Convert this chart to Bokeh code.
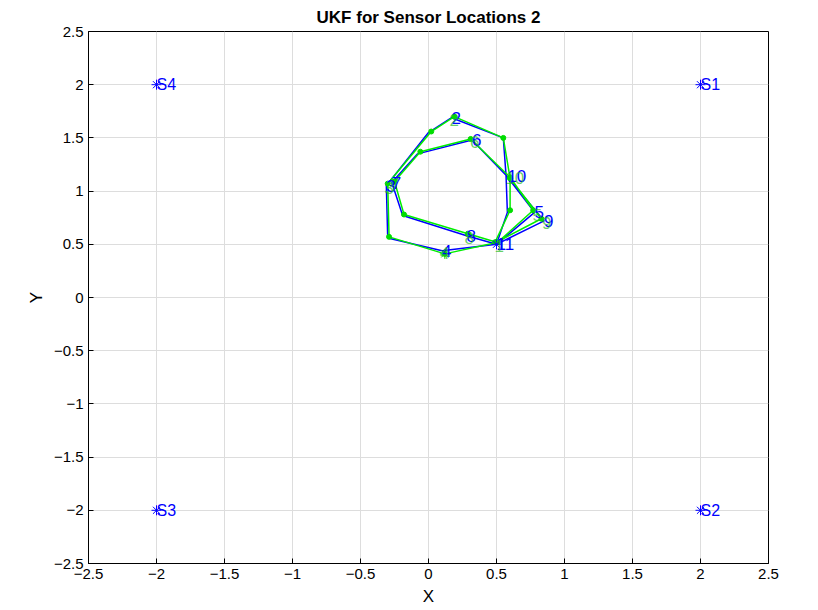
from bokeh.plotting import figure
from bokeh.embed import file_html
from bokeh.resources import INLINE
from bokeh.models import FixedTicker, Range1d
from bokeh.core.properties import value

sensor_x = [2, 2, -2, -2]
sensor_y = [2, -2, -2, 2]
sensor_names = ["S1", "S2", "S3", "S4"]

# waypoints 1..11
wp_x = [0.5, 0.17, -0.31, 0.1, 0.78, 0.32, -0.27, 0.28, 0.85, 0.58, 0.5]
wp_y = [0.5, 1.69, 1.05, 0.44, 0.8, 1.48, 1.08, 0.58, 0.72, 1.14, 0.5]
wp_names = [str(i) for i in range(1, 12)]

# true path (blue)
true_x = [0.5, 0.58, 0.57, 0.55, 0.17, 0.0, -0.31, -0.3, 0.1, 0.5, 0.78, 0.57, 0.32, -0.08, -0.27, -0.19, 0.28, 0.5, 0.85, 0.57]
true_y = [0.5, 0.8, 1.15, 1.5, 1.69, 1.55, 1.05, 0.56, 0.44, 0.5, 0.8, 1.15, 1.48, 1.35, 1.08, 0.77, 0.58, 0.5, 0.72, 1.15]
# UKF estimate (green)
est_x = [0.49, 0.6, 0.6, 0.55, 0.19, 0.02, -0.3, -0.29, 0.12, 0.51, 0.77, 0.6, 0.31, -0.06, -0.25, -0.18, 0.29, 0.5, 0.83, 0.6]
est_y = [0.52, 0.82, 1.12, 1.5, 1.7, 1.56, 1.07, 0.57, 0.41, 0.52, 0.82, 1.13, 1.49, 1.37, 1.09, 0.78, 0.6, 0.52, 0.74, 1.12]

p = figure(width=810, height=608, output_backend="svg", toolbar_location=None,
           x_range=Range1d(-2.5, 2.5), y_range=Range1d(-2.5, 2.5),
           min_border_left=88, min_border_right=42, min_border_top=26, min_border_bottom=38,
           title="UKF for Sensor Locations 2")
p.title.align = "center"
p.title.text_font = "Liberation Sans"
p.title.text_font_size = "17px"
p.title.text_font_style = "bold"
p.title.text_color = "black"
p.outline_line_color = "black"
ticks = [-2.5, -2, -1.5, -1, -0.5, 0, 0.5, 1, 1.5, 2, 2.5]
for ax in (p.xaxis, p.yaxis):
    ax.ticker = FixedTicker(ticks=ticks)
    ax.major_label_text_font = "Liberation Sans"
    ax.major_label_text_font_size = "15px"
    ax.major_label_text_color = "black"
    ax.axis_label_text_font = "Liberation Sans"
    ax.axis_label_text_font_size = "17px"
    ax.axis_label_text_font_style = "normal"
    ax.axis_label_text_color = "black"
    ax.minor_tick_line_color = None
    ax.major_tick_in = 5
    ax.major_tick_out = 0
p.xaxis.axis_label = "X"
p.yaxis.axis_label = "Y"
p.yaxis.major_label_orientation = 0
p.grid.grid_line_color = "#dddddd"

p.line(true_x, true_y, line_color="blue", line_width=1.5)
p.line(est_x, est_y, line_color="#00ee00", line_width=1.5)
p.scatter(est_x, est_y, marker="circle", size=5, color="#00dd00")
p.scatter(sensor_x, sensor_y, marker="asterisk", size=10, line_color="blue")
p.scatter([true_x[0]], [true_y[0]], marker="asterisk", size=10, line_color="blue")
p.scatter([0.12], [0.41], marker="asterisk", size=10, line_color="#00dd00")
p.text(sensor_x, sensor_y, text=sensor_names, text_color="blue", text_font=value("Liberation Sans"),
       text_font_size="16px", text_baseline="middle", x_offset=0)
p.text(wp_x, wp_y, text=wp_names, text_color="blue", text_font=value("Liberation Sans"),
       text_font_size="17px", text_baseline="middle", x_offset=0)
p.text(wp_x[:10], [y - 0.02 for y in wp_y[:10]], text=wp_names[:10], text_color="#22bb22", alpha=0.7,
       text_font=value("Liberation Sans"), text_font_size="17px", text_baseline="middle", x_offset=-2)

open("out.html", "w").write(file_html(p, INLINE))
